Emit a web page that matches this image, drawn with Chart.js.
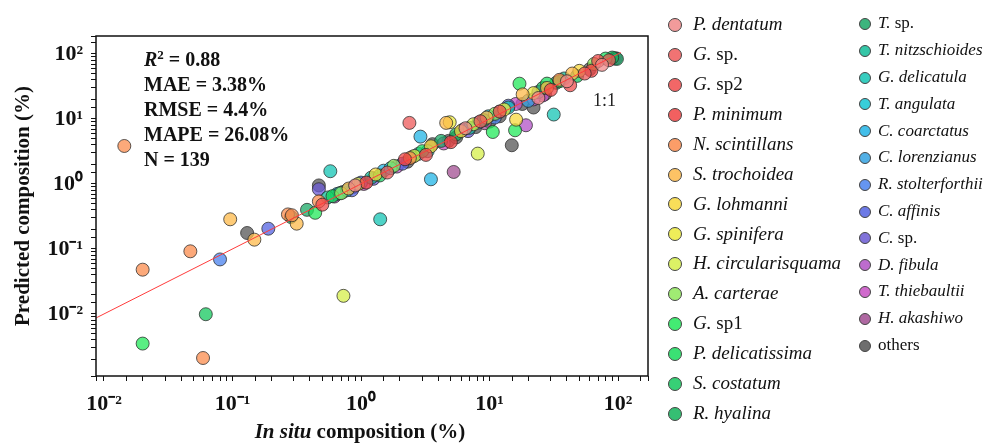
<!DOCTYPE html>
<html>
<head>
<meta charset="utf-8">
<script src="https://cdn.jsdelivr.net/npm/chart.js@4"></script>
<style>
  body { margin: 0; background: #fff; }
  #wrap { position: relative; width: 992px; height: 443px; overflow: hidden; font-family: "Liberation Serif", "Times New Roman", serif; }
  #stats { position: absolute; left: 144px; top: 47px; font-weight: bold; font-size: 20px; line-height: 25px; color: #111; }
  #stats sup { font-size: 13px; vertical-align: 7px; line-height: 0; }
  #ratio { position: absolute; left: 593px; top: 90px; font-size: 18px; color: #222; }
  #xtitle { position: absolute; left: 0; width: 720px; text-align: center; top: 419px; font-size: 21px; font-weight: bold; color: #111; }
  .leg { position: absolute; white-space: nowrap; color: #111; }
  .dot { position: absolute; border-radius: 50%; box-sizing: border-box; border: 1.5px solid #444; }
</style>
</head>
<body>
<div id="wrap">
  <canvas id="chart" width="992" height="443"></canvas>
  <div id="stats">
    <div><i>R</i><sup>2</sup> = 0.88</div>
    <div>MAE = 3.38%</div>
    <div>RMSE = 4.4%</div>
    <div>MAPE = 26.08%</div>
    <div>N = 139</div>
  </div>
  <div id="ratio">1:1</div>
  <div id="xtitle"><i>In situ</i> composition (%)</div>
  <div id="legend"></div>
</div>
<script>
const species = [
  'P. dentatum', 'G. sp.', 'G. sp2', 'P. minimum', 'N. scintillans', 'S. trochoidea',
  'G. lohmanni', 'G. spinifera', 'H. circularisquama', 'A. carterae', 'G. sp1',
  'P. delicatissima', 'S. costatum', 'R. hyalina', 'T. sp.', 'T. nitzschioides',
  'G. delicatula', 'T. angulata', 'C. coarctatus', 'C. lorenzianus', 'R. stolterforthii',
  'C. affinis', 'C. sp.', 'D. fibula', 'T. thiebaultii', 'H. akashiwo', 'others'
];

// in situ composition (%) per species
const inSitu = [
  [0.9, 6.5, 40, 75, 24],
  [2.38, 1.6, 8.5, 55, 85],
  [42.4, 3.2, 12, 0.5, 70],
  [1.1, 5, 30, 62, 2.2],
  [0.0144, 0.020, 0.047, 0.059, 0.27, 0.29, 0.47, 2.4, 35],
  [0.096, 0.148, 0.316, 18.1, 4.6, 44, 28, 0.8, 9.5],
  [16.1, 3.5, 1.3, 50, 6],
  [4.9, 0.95, 22, 13],
  [0.73, 8.1, 7.5, 2.6],
  [1.8, 11, 65, 0.7],
  [0.020, 0.44, 10.6, 15.8, 17.1, 35],
  [3, 28, 0.6, 80],
  [0.062, 9, 1.4, 48],
  [0.285, 2.5, 26, 90, 5.5],
  [4.2, 0.38, 33, 98],
  [7, 1.2, 0.55, 38],
  [0.577, 1.41, 31.6, 3.3, 14],
  [0.68, 1.7, 9.8, 0.78],
  [2.9, 3.5, 12, 0.65, 1.5],
  [8.2, 20, 2.8, 0.72],
  [0.08, 6.2, 11, 1.0],
  [0.19, 2.1, 0.85, 14],
  [0.47, 1.25, 6.8, 24],
  [19.2, 1.9, 0.62, 22],
  [4.4, 1.05, 16, 26],
  [5.26, 9.2, 0.88, 96],
  [0.13, 14.9, 3.6, 4.8, 5.5, 7.8, 10, 0.47, 2.3, 18, 22, 93, 27, 12, 60]
];

// predicted composition (%) per species
const predicted = [
  [0.95, 7.2, 38, 68, 21],
  [8.7, 1.5, 9.2, 50, 80],
  [33, 2.8, 13, 0.48, 78],
  [1.05, 4.4, 28, 55, 2.4],
  [3.84, 0.048, 0.092, 0.0021, 0.34, 0.33, 0.54, 2.5, 40],
  [0.286, 0.139, 0.245, 23.9, 8.7, 50, 30, 0.85, 10.5],
  [9.75, 3.8, 1.4, 55, 6.5],
  [8.9, 1.0, 25, 14],
  [0.019, 2.93, 8.3, 2.7],
  [1.9, 12, 70, 0.72],
  [0.0035, 0.36, 6.3, 6.7, 34.9, 38],
  [3.2, 35, 0.65, 85],
  [0.0099, 9.6, 1.35, 46],
  [0.31, 2.6, 30, 88, 5.8],
  [4.6, 0.4, 36, 84],
  [7.3, 1.25, 0.62, 42],
  [1.57, 0.286, 11.7, 3.2, 15],
  [0.72, 1.75, 11, 0.8],
  [5.35, 1.18, 13, 0.7, 1.6],
  [8.8, 19, 2.9, 0.75],
  [0.069, 6.8, 10.5, 1.05],
  [0.205, 2.05, 0.8, 16],
  [0.83, 1.2, 6.5, 26],
  [8.0, 1.85, 0.64, 20],
  [4.2, 1.0, 17, 23],
  [1.53, 8.6, 0.9, 86],
  [0.176, 3.94, 4.1, 4.6, 5.2, 7.5, 9.1, 0.95, 2.2, 17, 15, 85, 24, 11, 58]
];

const colors = [
  '#f08a8a', '#ee5a5a', '#f04c4c', '#f04444', '#fb8c4e', '#fdb94a',
  '#f8d83c', '#ecea3c', '#d6ef4a', '#8fe85a', '#22e85a',
  '#18dc5c', '#14c85e', '#12b45a', '#1aa866', '#12bc98',
  '#14c4b4', '#14c6d4', '#22b4e6', '#34a2e2', '#4a82ee',
  '#5463e2', '#6b5ad4', '#b252c6', '#c850c4', '#a14e92', '#555555'
];

const lineRange = [0.0087, 105];

function rgba(hex, a) {
  const n = parseInt(hex.slice(1), 16);
  return `rgba(${n >> 16},${(n >> 8) & 255},${n & 255},${a})`;
}

const sup = { '-': '\u207B', '0': '\u2070', '1': '\u00B9', '2': '\u00B2' };
function powLabel(v) {
  const e = Math.log10(v);
  if (Math.abs(e - Math.round(e)) > 1e-6) return '';
  return '10' + String(Math.round(e)).split('').map(c => sup[c]).join('');
}

const datasets = species.map((name, i) => ({
  label: name,
  data: inSitu[i].map((x, j) => ({ x: x, y: predicted[i][j] })),
  backgroundColor: rgba(colors[i], 0.75),
  borderColor: 'rgba(40,40,40,0.75)',
  borderWidth: 1,
  pointRadius: 6.5,
  order: 1
}));

datasets.push({
  label: '1:1',
  data: lineRange.map(v => ({ x: v, y: v })),
  showLine: true,
  borderColor: '#ff3b3b',
  borderWidth: 1,
  pointRadius: 0,
  order: 0
});

const frame = {
  id: 'frame',
  afterDraw(chart) {
    const { ctx, chartArea: a } = chart;
    ctx.save();
    ctx.strokeStyle = '#111';
    ctx.lineWidth = 1.5;
    ctx.strokeRect(a.left, a.top, a.right - a.left, a.bottom - a.top);
    ctx.restore();
  }
};

const tickFont = { family: 'Liberation Serif', size: 22, weight: 'bold' };

const scatterChart = new Chart(document.getElementById('chart'), {
  type: 'scatter',
  data: { datasets: datasets },
  options: {
    responsive: false,
    animation: false,
    layout: { padding: { left: 0, top: 36, right: 344, bottom: 0 } },
    plugins: { legend: { display: false }, tooltip: { enabled: false } },
    scales: {
      x: {
        type: 'logarithmic',
        min: 0.00867,
        max: 171,
        afterFit(scale) { scale.height = 67; },
        border: { display: false },
        grid: { drawOnChartArea: false, drawTicks: true, tickLength: 5, color: '#111', tickWidth: 1 },
        ticks: { autoSkip: false, maxRotation: 0, padding: 10, color: '#111', font: tickFont, callback: powLabel }
      },
      y: {
        type: 'logarithmic',
        min: 0.00111,
        max: 189,
        afterFit(scale) { scale.width = 96; },
        border: { display: false },
        grid: { drawOnChartArea: false, drawTicks: true, tickLength: 5, color: '#111', tickWidth: 1 },
        ticks: { autoSkip: false, padding: 8, color: '#111', font: tickFont, callback: powLabel },
        title: {
          display: true,
          text: 'Predicted composition (%)',
          color: '#111',
          font: { family: 'Liberation Serif', size: 21, weight: 'bold' },
          padding: { top: 11, bottom: 0 }
        }
      }
    }
  },
  plugins: [frame]
});

// legend in two columns, genus in italics
const legend = document.getElementById('legend');
const columns = [
  { start: 0, end: 14, dotX: 675, textX: 693, y0: 25, step: 29.9, size: 19, dot: 14 },
  { start: 14, end: 27, dotX: 865, textX: 878, y0: 24, step: 26.8, size: 17, dot: 12 }
];
columns.forEach(col => {
  for (let i = col.start; i < col.end; i++) {
    const cy = col.y0 + (i - col.start) * col.step;
    const dot = document.createElement('span');
    dot.className = 'dot';
    dot.style.cssText = `left:${col.dotX - col.dot / 2}px;top:${cy - col.dot / 2}px;width:${col.dot}px;height:${col.dot}px;background:${rgba(colors[i], 0.85)}`;
    const label = document.createElement('div');
    label.className = 'leg';
    label.style.cssText = `left:${col.textX}px;top:${cy - col.size * 0.62}px;font-size:${col.size}px;`;
    const name = species[i];
    const parts = name.split(' ');
    if (name === 'others') label.textContent = name;
    else if (/^sp(\.|\d)/.test(parts[1])) label.innerHTML = `<i>${parts[0]}</i> ${parts[1]}`;
    else label.innerHTML = `<i>${name}</i>`;
    legend.appendChild(dot);
    legend.appendChild(label);
  }
});
</script>
</body>
</html>
